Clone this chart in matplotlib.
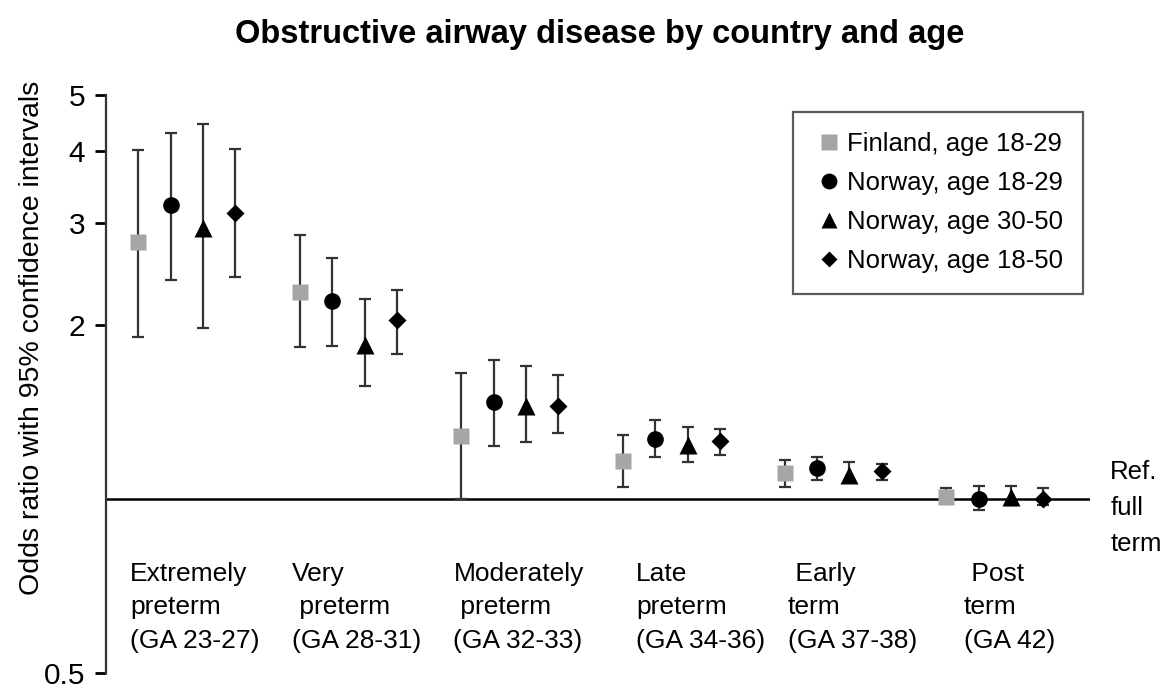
import numpy as np
import matplotlib
matplotlib.use("Agg")
import matplotlib.pyplot as plt
from matplotlib.lines import Line2D

plt.rcParams["font.family"] = ["Liberation Sans Narrow", "Liberation Sans", "DejaVu Sans"]

GROUPS = ["Extremely\npreterm\n(GA 23-27)", "Very\n preterm\n(GA 28-31)",
          "Moderately\n preterm\n(GA 32-33)", "Late\npreterm\n(GA 34-36)",
          " Early\nterm\n(GA 37-38)", " Post\nterm\n(GA 42)"]
SERIES = ["Finland, age 18-29", "Norway, age 18-29", "Norway, age 30-50", "Norway, age 18-50"]

# odds ratio, lower CI, upper CI per series (one value per gestational group)
OR = {
    "Finland, age 18-29": [2.78, 2.28, 1.285, 1.164, 1.11, 1.008],
    "Norway, age 18-29":  [3.22, 2.20, 1.47, 1.27, 1.13, 1.00],
    "Norway, age 30-50":  [2.94, 1.85, 1.45, 1.24, 1.10, 1.01],
    "Norway, age 18-50":  [3.12, 2.04, 1.45, 1.26, 1.12, 1.00],
}
LO = {
    "Finland, age 18-29": [1.91, 1.83, 1.00, 1.05, 1.05, 1.00],
    "Norway, age 18-29":  [2.39, 1.84, 1.235, 1.18, 1.08, 0.956],
    "Norway, age 30-50":  [1.98, 1.57, 1.257, 1.16, 1.07, 0.977],
    "Norway, age 18-50":  [2.42, 1.78, 1.30, 1.19, 1.08, 0.978],
}
HI = {
    "Finland, age 18-29": [4.02, 2.86, 1.65, 1.29, 1.17, 1.045],
    "Norway, age 18-29":  [4.30, 2.61, 1.74, 1.37, 1.18, 1.055],
    "Norway, age 30-50":  [4.45, 2.22, 1.70, 1.33, 1.16, 1.055],
    "Norway, age 18-50":  [4.03, 2.30, 1.64, 1.32, 1.15, 1.045],
}

STYLE = {
    "Finland, age 18-29": dict(marker="s", color="#a6a6a6", ms=11.5),
    "Norway, age 18-29":  dict(marker="o", color="black", ms=12),
    "Norway, age 30-50":  dict(marker="^", color="black", ms=12.5),
    "Norway, age 18-50":  dict(marker="D", color="black", ms=9),
}
OFFSETS = [-0.3, -0.1, 0.1, 0.3]
LABEL_SHIFT = [-0.35, -0.35, -0.35, -0.22, -0.28, -0.19]

fig = plt.figure(figsize=(11.64, 6.91), dpi=100)
ax = fig.add_axes([106 / 1164, 1 - 673 / 691, (1090 - 106) / 1164, (673 - 95) / 691])

xg = np.arange(len(GROUPS))
for s, off in zip(SERIES, OFFSETS):
    y = np.array(OR[s])
    yerr = [y - np.array(LO[s]), np.array(HI[s]) - y]
    st = STYLE[s]
    ax.errorbar(xg + off, y, yerr=yerr, fmt=st["marker"], color=st["color"],
                ms=st["ms"], mec="none", ecolor="#333333", elinewidth=1.6,
                capsize=4.5, capthick=1.6, zorder=3)

ax.axhline(1, color="black", lw=1.8, zorder=2)

ax.set_yscale("log")
ax.set_ylim(0.5, 5)
ax.set_xlim(-0.5, 5.59)
ax.set_yticks([0.5, 2, 3, 4, 5])
ax.set_yticklabels(["0.5", "2", "3", "4", "5"])
ax.yaxis.set_minor_locator(matplotlib.ticker.NullLocator())
ax.tick_params(axis="y", labelsize=21.5, length=8, width=2, direction="out", pad=7)
ax.set_xticks([])
for sp in ["top", "right", "bottom"]:
    ax.spines[sp].set_visible(False)
ax.spines["left"].set_linewidth(1.6)
ax.spines["left"].set_color("#333333")

ax.set_ylabel("Odds ratio with 95% confidence intervals", fontsize=20.5)
ax.yaxis.set_label_coords(-0.062, 0.58)

for i, (lab, sh) in enumerate(zip(GROUPS, LABEL_SHIFT)):
    ax.text(i + sh, 0.65, lab, fontsize=19, ha="left", va="center", linespacing=1.5)

ax.text(5.715, 0.965, "Ref.\nfull\nterm", fontsize=18.5, ha="left", va="center",
        linespacing=1.62, clip_on=False)

handles = [Line2D([0], [0], marker=STYLE[s]["marker"], color=STYLE[s]["color"], ls="none",
                  ms=STYLE[s]["ms"] * 0.95, mec="none", label=s) for s in SERIES]
leg = ax.legend(handles=handles, loc="upper right", bbox_to_anchor=(0.993, 0.971),
                fontsize=18.5, frameon=True, fancybox=False, handletextpad=0.1,
                handlelength=1.2, labelspacing=0.58, borderpad=0.8, borderaxespad=0)
leg.get_frame().set_edgecolor("#333333")
leg.get_frame().set_linewidth(1.6)

fig.suptitle("Obstructive airway disease by country and age", fontsize=23.5,
             fontweight="bold", y=1 - 35 / 691, va="center", x=0.515)

fig.savefig("out.png", dpi=100)
